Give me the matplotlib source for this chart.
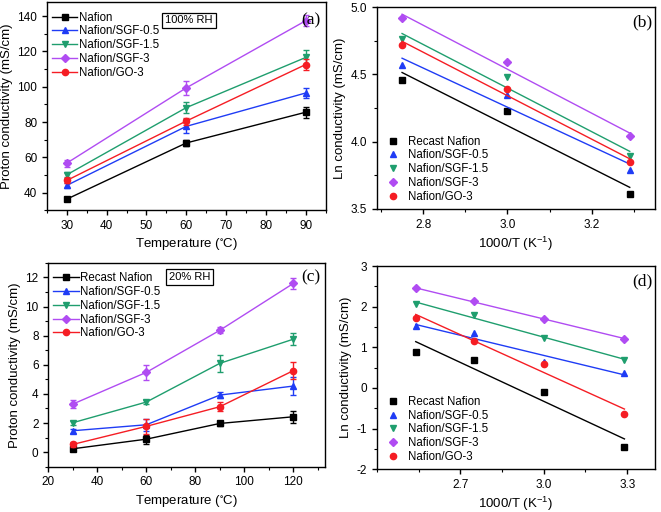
import numpy as np
import matplotlib
matplotlib.use('Agg')
import matplotlib.pyplot as plt
from matplotlib.ticker import MultipleLocator

plt.rcParams['font.family'] = ['Liberation Sans', 'DejaVu Sans']
plt.rcParams['mathtext.fontset'] = 'custom'
plt.rcParams['mathtext.rm'] = 'Liberation Sans'
plt.rcParams['mathtext.default'] = 'regular'
plt.rcParams['axes.unicode_minus'] = False

# ---- data ----
labels_a = ['Nafion', 'Nafion/SGF-0.5', 'Nafion/SGF-1.5', 'Nafion/SGF-3', 'Nafion/GO-3']
labels_b = ['Recast Nafion', 'Nafion/SGF-0.5', 'Nafion/SGF-1.5', 'Nafion/SGF-3', 'Nafion/GO-3']
colors = ['#000000', '#1f3cf5', '#1f9e6e', '#b04cf2', '#f51d24']
markers = ['s', '^', 'v', 'D', 'o']
msizes = [4, 4.5, 4.5, 3.8, 4.5]

# (a) 100% RH
temp_a = [30, 60, 90]
cond_a = [
    [36.4, 68.2, 85.6],
    [44.2, 77.6, 96.5],
    [50.2, 88.2, 116.6],
    [56.8, 99.4, 137.4],
    [47.0, 80.6, 112.6],
]
err_a = [
    [1.0, 1.5, 3.0],
    [1.5, 4.0, 3.0],
    [1.5, 3.0, 4.0],
    [2.0, 4.0, 3.0],
    [1.5, 2.0, 3.0],
]

# (b) Arrhenius, 100% RH
invT_b = [2.75, 3.00, 3.29]
ln_b = [
    [4.456, 4.227, 3.61],
    [4.57, 4.35, 3.79],
    [4.76, 4.48, 3.89],
    [4.92, 4.59, 4.04],
    [4.72, 4.39, 3.85],
]

# (c) 20% RH
temp_c = [30, 60, 90, 120]
cond_c = [
    [0.23, 0.89, 1.97, 2.43],
    [1.47, 1.88, 3.92, 4.54],
    [2.02, 3.44, 6.10, 7.76],
    [3.30, 5.48, 8.37, 11.59],
    [0.53, 1.77, 3.12, 5.60],
]
err_c = [
    [0.10, 0.30, 0.15, 0.40],
    [0.15, 0.40, 0.20, 0.60],
    [0.15, 0.15, 0.60, 0.40],
    [0.30, 0.50, 0.20, 0.40],
    [0.15, 0.50, 0.30, 0.60],
]

# (d) Arrhenius, 20% RH
invT_d = [2.54, 2.75, 3.00, 3.29]
ln_d = [
    [0.89, 0.69, -0.09, -1.46],
    [1.52, 1.36, 0.64, 0.38],
    [2.06, 1.80, 1.24, 0.69],
    [2.45, 2.13, 1.70, 1.21],
    [1.73, 1.15, 0.60, -0.65],
]


def style_axes(ax):
    for s in ax.spines.values():
        s.set_linewidth(1.0)
    ax.tick_params(which='both', direction='out', top=False, right=False, labelsize=8.5)
    ax.tick_params(which='major', length=3.5, width=1)
    ax.tick_params(which='minor', length=2, width=0.8)


def temp_panel(ax, x, ys, errs, labels, rh_text, tag, ty):
    for y, e, lab, c, m, ms in zip(ys, errs, labels, colors, markers, msizes):
        ax.errorbar(x, y, yerr=e, color=c, fmt='none', elinewidth=1,
                    capsize=2, capthick=1)
        ax.plot(x, y, color=c, marker=m, markersize=ms, lw=1, label=lab)
    ax.legend(loc='upper left', bbox_to_anchor=(0.01, 0.965), frameon=False,
              fontsize=8.3, handlelength=2.2, handletextpad=0.15,
              labelspacing=0.15, borderpad=0.2, borderaxespad=0)
    ax.text(0.51, ty, rh_text, transform=ax.transAxes,
            ha='center', va='center', fontsize=8,
            bbox=dict(boxstyle='square,pad=0.25', fc='white', ec='black', lw=0.9))
    ax.text(0.948, ty, tag, transform=ax.transAxes,
            ha='center', va='center', fontsize=12.5, family='Liberation Serif')
    ax.set_xlabel('Temperature ($^{\\circ}$C)', fontsize=9.5, labelpad=3)
    ax.set_ylabel('Proton conductivity (mS/cm)', fontsize=9.5, labelpad=3)
    style_axes(ax)


def arrhenius_panel(ax, x, ys, labels, tag):
    for y, lab, c, m, ms in zip(ys, labels, colors, markers, msizes):
        ax.plot(x, y, linestyle='none', marker=m, color=c, markersize=ms, label=lab)
        k, b = np.polyfit(x, y, 1)
        xf = np.array([x[0], x[-1]])
        ax.plot(xf, k * xf + b, color=c, lw=1)
    ax.legend(loc='lower left', bbox_to_anchor=(0.02, 0.02), frameon=False,
              fontsize=8.3, handlelength=1.5, handletextpad=0.5,
              labelspacing=0.15, borderpad=0.2, borderaxespad=0)
    ax.text(0.953, 0.925, tag, transform=ax.transAxes,
            ha='center', va='center', fontsize=12.5, family='Liberation Serif')
    ax.set_xlabel('1000/T (K$^{-1}$)', fontsize=9.5, labelpad=3)
    ax.set_ylabel('Ln conductivity (mS/cm)', fontsize=9.5, labelpad=3)
    style_axes(ax)


fig = plt.figure(figsize=(6.61, 5.12), dpi=100)
ax_a = fig.add_axes([0.071, 0.589, 0.4215, 0.407])
ax_b = fig.add_axes([0.570, 0.592, 0.421, 0.394])
ax_c = fig.add_axes([0.073, 0.0885, 0.419, 0.398])
ax_d = fig.add_axes([0.570, 0.0834, 0.421, 0.397])

temp_panel(ax_a, temp_a, cond_a, err_a, labels_a, '100% RH', '(a)', 0.912)
ax_a.set_xlim(25, 95)
ax_a.set_ylim(30, 148)
ax_a.xaxis.set_major_locator(MultipleLocator(10))
ax_a.xaxis.set_minor_locator(MultipleLocator(5))
ax_a.yaxis.set_major_locator(MultipleLocator(20))
ax_a.yaxis.set_minor_locator(MultipleLocator(10))

arrhenius_panel(ax_b, invT_b, ln_b, labels_b, '(b)')
ax_b.set_xlim(2.69, 3.35)
ax_b.set_ylim(3.5, 5.0)
ax_b.xaxis.set_major_locator(MultipleLocator(0.2))
ax_b.xaxis.set_minor_locator(MultipleLocator(0.1))
ax_b.yaxis.set_major_locator(MultipleLocator(0.5))
ax_b.yaxis.set_minor_locator(MultipleLocator(0.25))

temp_panel(ax_c, temp_c, cond_c, err_c, labels_b, '20% RH', '(c)', 0.93)
ax_c.set_xlim(20, 133)
ax_c.set_ylim(-1, 13)
ax_c.xaxis.set_major_locator(MultipleLocator(20))
ax_c.xaxis.set_minor_locator(MultipleLocator(10))
ax_c.yaxis.set_major_locator(MultipleLocator(2))
ax_c.yaxis.set_minor_locator(MultipleLocator(1))

arrhenius_panel(ax_d, invT_d, ln_d, labels_b, '(d)')
ax_d.set_xlim(2.4, 3.4)
ax_d.set_ylim(-2, 3)
ax_d.set_xticks([2.7, 3.0, 3.3])
ax_d.xaxis.set_minor_locator(MultipleLocator(0.15))
ax_d.yaxis.set_major_locator(MultipleLocator(1))
ax_d.yaxis.set_minor_locator(MultipleLocator(0.5))

fig.savefig('out.png', dpi=100)
